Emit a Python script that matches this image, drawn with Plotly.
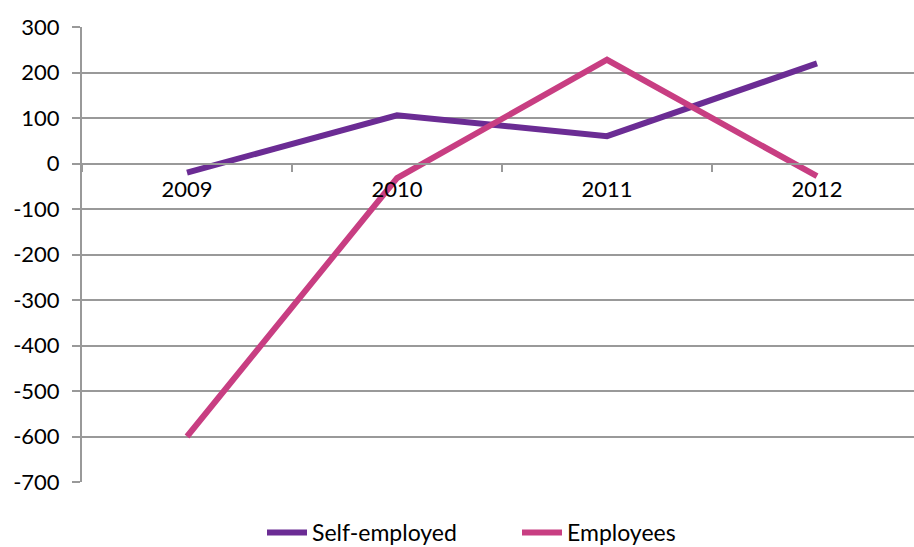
import plotly.graph_objects as go

years = ["2009", "2010", "2011", "2012"]
self_employed = [-20, 106, 60, 220]
employees = [-600, -32, 228, -28]
y_ticks = [300, 200, 100, 0, -100, -200, -300, -400, -500, -600, -700]
y_tick_labels = [str(v) for v in y_ticks]

purple = "#6B2C94"
pink = "#C83E82"
grid = "#999999"

W, H = 914, 547
ml, mr, mt, mb = 82, 0, 27, 65
ymin, ymax = -700, 300

fig = go.Figure()
fig.add_trace(go.Scatter(x=years, y=self_employed, mode="lines", name="Self-employed",
                         line=dict(color=purple, width=6)))
fig.add_trace(go.Scatter(x=years, y=employees, mode="lines", name="Employees",
                         line=dict(color=pink, width=6)))

zero_pos = (0 - ymin) / (ymax - ymin)
plot_h = H - mt - mb

fig.update_layout(
    width=W, height=H,
    margin=dict(l=ml, r=mr, t=mt, b=mb, autoexpand=False),
    paper_bgcolor="white", plot_bgcolor="white",
    font=dict(family="Lato, DejaVu Sans, sans-serif", size=22, color="black"),
    showlegend=True,
    legend=dict(orientation="h", xref="container", x=262 / W, xanchor="left",
                yref="paper", y=-29 / plot_h, yanchor="top",
                entrywidth=200, entrywidthmode="pixels",
                font=dict(size=23), itemwidth=40, traceorder="normal"),
    xaxis=dict(type="category", range=[-0.5, -0.5 + (W - ml - mr) / 210.0],
               anchor="free", position=zero_pos,
               showgrid=False, showline=True, linecolor=grid, linewidth=2,
               ticks="outside", ticklen=7, tickcolor=grid, tickwidth=1.5,
               tickson="boundaries", tickfont=dict(size=22), zeroline=False,
               ticklabelstandoff=6),
    yaxis=dict(range=[ymin, ymax], tickvals=y_ticks, ticktext=y_tick_labels,
               showgrid=True, gridcolor=grid, gridwidth=2,
               showline=True, linecolor=grid, linewidth=2,
               ticks="outside", ticklen=8, tickcolor=grid, tickwidth=2,
               zeroline=False, tickfont=dict(size=22), ticklabelstandoff=8),
)

fig.write_html("out.html")
